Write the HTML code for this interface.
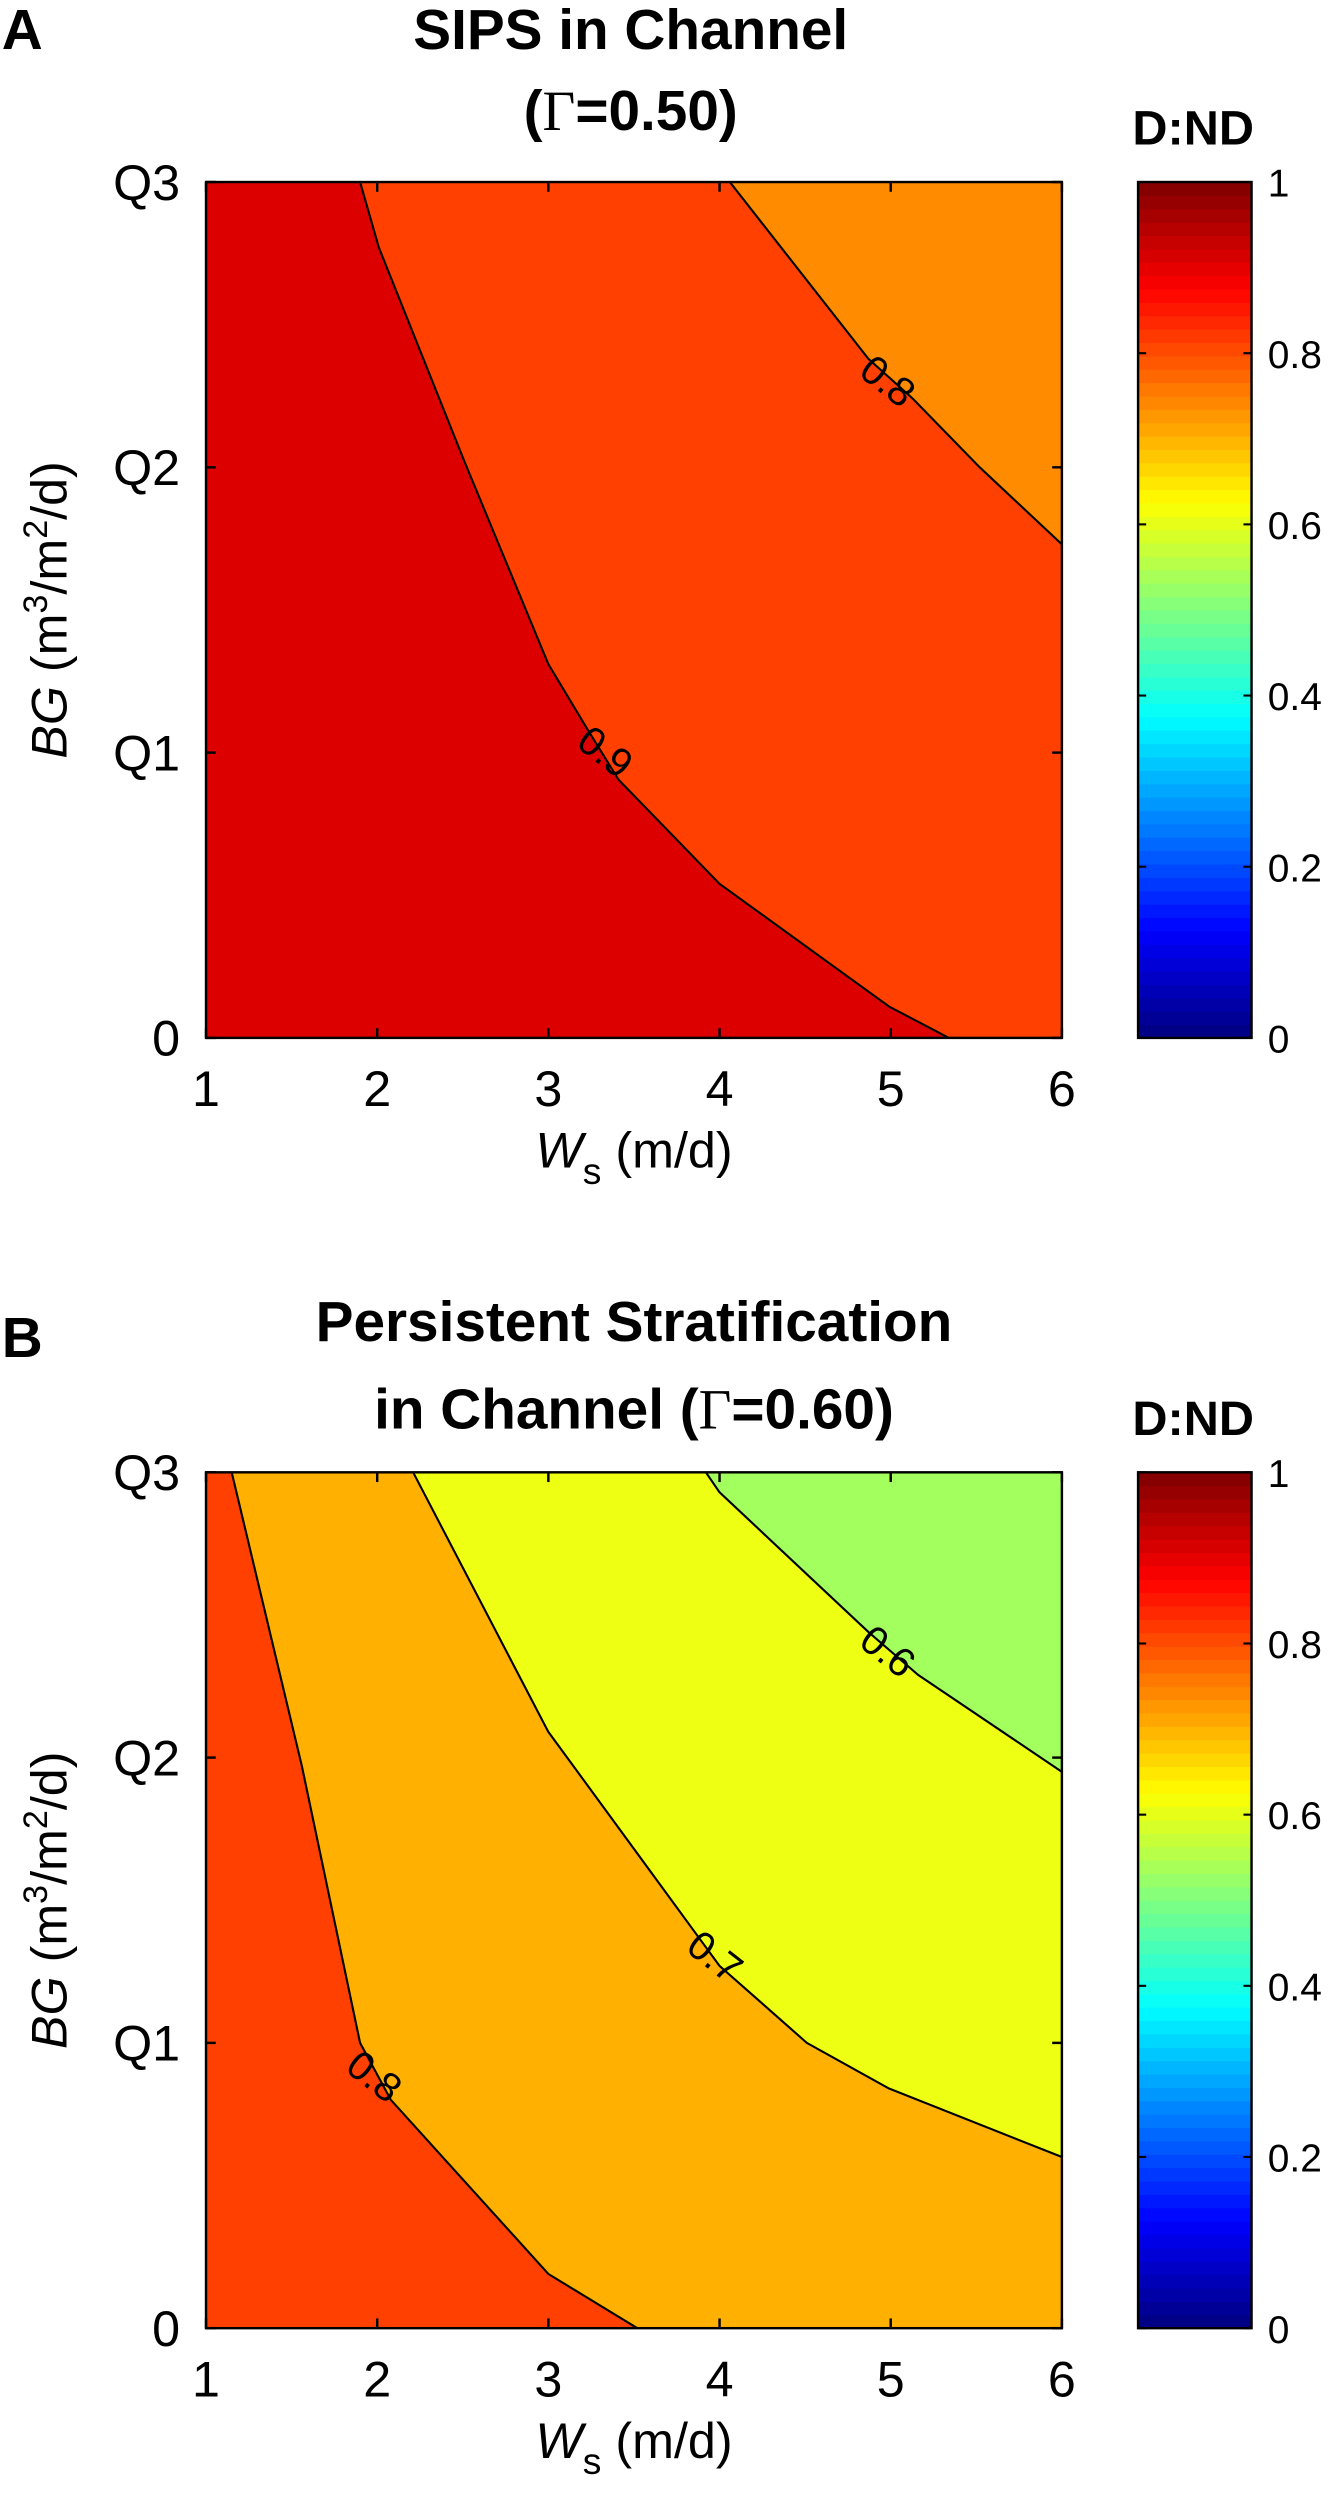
<!DOCTYPE html>
<html><head><meta charset="utf-8"><style>
html,body{margin:0;padding:0;background:#fff;}
svg{display:block;}
text{font-family:"Liberation Sans",sans-serif;fill:#000;}
</style></head><body>
<svg id="fig" width="1336" height="2500" viewBox="2.9 2.7 824.2 1542.3" preserveAspectRatio="none" xmlns="http://www.w3.org/2000/svg">
<g id="root"></g>
</svg>
<script>
// ---- data ----
const xTicks = [1,2,3,4,5,6];
const yTicks = [0,1,2,3];
const yTickLabels = ["0","Q1","Q2","Q3"];
const cbTicks = [0,0.2,0.4,0.6,0.8,1];
const cbTickLabels = ["0","0.2","0.4","0.6","0.8","1"];
// Panel A contours (W, Q)
const aLevels = [0.9, 0.8];
const aColors = ["#dd0000","#ff4000","#ff8c00"];
const aLine09W = [1.90,2.01,2.51,3.0,3.23,3.41,4.0,4.99,5.34];
const aLine09Q = [3.0,2.77,2.02,1.31,1.08,0.905,0.54,0.11,0];
const aLine08W = [4.06,4.87,5.13,5.52,6.0];
const aLine08Q = [3.0,2.38,2.24,2.0,1.73];
const aLabelW = [3.33,4.98];
const aLabelQ = [1.0,2.3];
// Panel B contours
const bLevels = [0.8,0.7,0.6];
const bColors = ["#ff4000","#ffb000","#eeff14","#a2ff5e"];
const bLine08W = [1.15,1.56,1.90,2.08,3.0,3.52];
const bLine08Q = [3.0,1.97,1.0,0.80,0.19,0];
const bLine07W = [2.21,3.0,3.11,3.89,4.0,4.51,4.99,6.0];
const bLine07Q = [3.0,2.09,2.0,1.36,1.27,1.0,0.84,0.6];
const bLine06W = [3.92,4.0,4.87,5.16,6.0];
const bLine06Q = [3.0,2.93,2.44,2.29,1.95];
const bLabelW = [1.98,3.97,4.98];
const bLabelQ = [0.88,1.3,2.37];

const NS="http://www.w3.org/2000/svg";
const root=document.getElementById('root');
function el(tag,attrs,parent,txt){const e=document.createElementNS(NS,tag);for(const k in attrs)e.setAttribute(k,attrs[k]);if(txt!==undefined)e.textContent=txt;(parent||root).appendChild(e);return e;}

const PX0=130,PX1=658;
function makePanel(top,cfg){
  const Y0=top, Y1=top+528;
  const sx=w=>PX0+(w-1)/5*(PX1-PX0);
  const sy=q=>Y1-q/3*(Y1-Y0);
  const g=el('g',{});
  
  
  const bg=el('rect',{x:PX0,y:Y0,width:PX1-PX0,height:Y1-Y0,fill:cfg.colors[0]},g);
  
  
  cfg.lines.forEach((ln,i)=>{
    let pts=ln.W.map((w,j)=>sx(w)+','+sy(ln.Q[j]));
    const last=ln.Q[ln.Q.length-1];
    let close=[];
    if(last===0) close.push(sx(6)+','+sy(0));
    close.push(sx(6)+','+sy(3));
    const poly=el('polygon',{points:pts.concat(close).join(' '),fill:cfg.colors[i+1]},g);
    
    
  });
  cfg.lines.forEach((ln,i)=>{
    const pl=el('polyline',{points:ln.W.map((w,j)=>sx(w)+','+sy(ln.Q[j])).join(' '),fill:'none',stroke:'#000','stroke-width':1.3},g);
    
    
    const t=el('text',{x:sx(cfg.labW[i]),y:sy(cfg.labQ[i])+8,'font-size':25,'text-anchor':'middle',transform:'rotate(38 '+sx(cfg.labW[i])+' '+sy(cfg.labQ[i])+')'},g,String(ln.level));
    
    
  });
  const fr=el('rect',{x:PX0,y:Y0,width:PX1-PX0,height:Y1-Y0,fill:'none',stroke:'#000','stroke-width':1.5},g);
  
  
  xTicks.forEach(v=>{
    const x=sx(v);
    el('line',{x1:x,y1:Y1,x2:x,y2:Y1-6,stroke:'#000','stroke-width':1.5},g);
    el('line',{x1:x,y1:Y0,x2:x,y2:Y0+6,stroke:'#000','stroke-width':1.5},g);
    const t=el('text',{x:x,y:Y1+42,'font-size':31,'text-anchor':'middle'},g,String(v));
    
    
  });
  yTicks.forEach((v,i)=>{
    const y=sy(v);
    el('line',{x1:PX0,y1:y,x2:PX0+6,y2:y,stroke:'#000','stroke-width':1.5},g);
    el('line',{x1:PX1,y1:y,x2:PX1-6,y2:y,stroke:'#000','stroke-width':1.5},g);
    const t=el('text',{x:114,y:y+11,'font-size':31,'text-anchor':'end'},g,yTickLabels[i]);
    
    
  });
  const xt=el('text',{x:394,y:Y1+80,'font-size':31,'text-anchor':'middle'},g);
  
  
  el('tspan',{'font-style':'italic'},xt,'W');
  el('tspan',{'font-size':23,dy:10},xt,'s');
  el('tspan',{dy:-10},xt,' (m/d)');
  const cy=(Y0+Y1)/2;
  const yt=el('text',{x:0,y:0,'font-size':31,'text-anchor':'middle',transform:'translate(44 '+cy+') rotate(-90)'},g);
  
  
  el('tspan',{'font-style':'italic'},yt,'BG');
  el('tspan',{},yt,' (m');
  el('tspan',{'font-size':21,dy:-12},yt,'3');
  el('tspan',{dy:12},yt,'/m');
  el('tspan',{'font-size':21,dy:-12},yt,'2');
  el('tspan',{dy:12},yt,'/d)');
  const cb=el('g',{},g);
  
  
  const CX0=705,CX1=775;
  const n=64;
  for(let k=0;k<n;k++){
    const v=(k+0.5)/n;
    const h=(Y1-Y0)/n;
    el('rect',{x:CX0,y:Y1-(k+1)*h-0.3,width:CX1-CX0,height:h+0.6,fill:jet(v)},cb);
  }
  el('rect',{x:CX0,y:Y0,width:CX1-CX0,height:Y1-Y0,fill:'none',stroke:'#000','stroke-width':1.5},cb);
  cbTicks.forEach((v,i)=>{
    const y=Y1-v*(Y1-Y0);
    el('line',{x1:CX1,y1:y,x2:CX1-5,y2:y,stroke:'#000','stroke-width':1.3},cb);
    el('line',{x1:CX0,y1:y,x2:CX0+5,y2:y,stroke:'#000','stroke-width':1.3},cb);
    const t=el('text',{x:785,y:y+9,'font-size':24},cb,cbTickLabels[i]);
    
    
  });
  const ct=el('text',{x:739,y:Y0-23,'font-size':30,'font-weight':'bold','text-anchor':'middle'},g,'D:ND');
  
  
}
function jet(v){
  const c=x=>Math.max(0,Math.min(1,x));
  const r=c(1.5-Math.abs(4*v-3)), gg=c(1.5-Math.abs(4*v-2)), b=c(1.5-Math.abs(4*v-1));
  return 'rgb('+Math.round(r*255)+','+Math.round(gg*255)+','+Math.round(b*255)+')';
}
makePanel(115,{name:'panel-a',colors:aColors,labW:aLabelW,labQ:aLabelQ,
  lines:[{level:aLevels[0],W:aLine09W,Q:aLine09Q},{level:aLevels[1],W:aLine08W,Q:aLine08Q}]});
makePanel(911,{name:'panel-b',colors:bColors,labW:bLabelW,labQ:bLabelQ,
  lines:[{level:bLevels[0],W:bLine08W,Q:bLine08Q},{level:bLevels[1],W:bLine07W,Q:bLine07Q},{level:bLevels[2],W:bLine06W,Q:bLine06Q}]});

function T(x,y,size,txt,name,anchor){const t=el('text',{x:x,y:y,'font-size':size,'font-weight':'bold','text-anchor':anchor||'middle'},root,txt);return t;}
T(4,33,35,'A','panel-a-letter','start');
T(392,33,35,'SIPS in Channel','panel-a-title-line1');
const a2=T(392,83,35,'','panel-a-title-line2');
el('tspan',{},a2,'(');el('tspan',{'font-family':'Liberation Serif','font-weight':'normal'},a2,'Γ');el('tspan',{},a2,'=0.50)');
T(4,840,35,'B','panel-b-letter','start');
T(394,830,35,'Persistent Stratification','panel-b-title-line1');
const b2=T(394,884,35,'','panel-b-title-line2');
el('tspan',{},b2,'in Channel (');el('tspan',{'font-family':'Liberation Serif','font-weight':'normal'},b2,'Γ');el('tspan',{},b2,'=0.60)');
</script>
</body></html>
